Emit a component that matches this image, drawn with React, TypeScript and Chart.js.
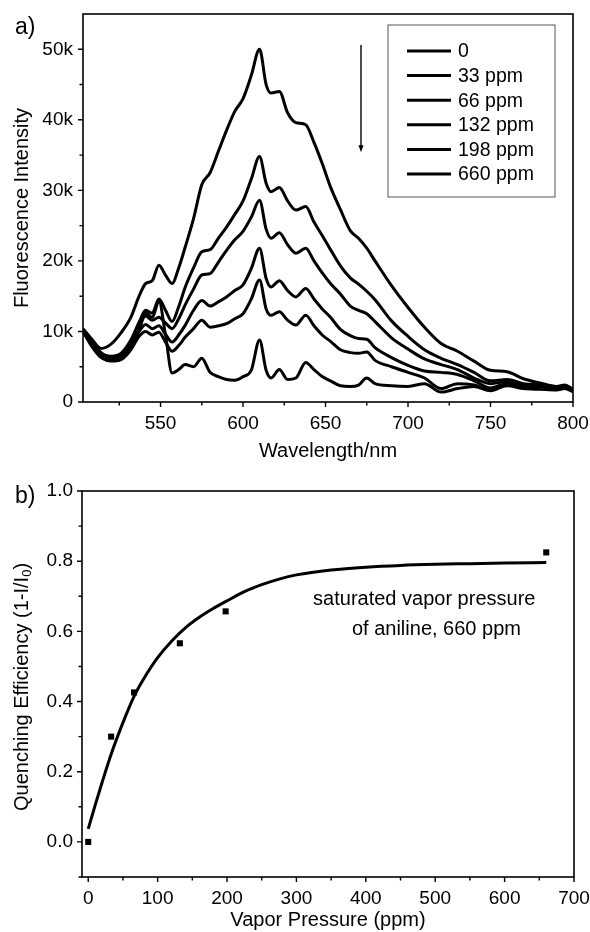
import React, { useEffect, useRef } from "react";
import { Chart, registerables } from "chart.js";

Chart.register(...registerables);

// ---------- Panel a) data (intensity in thousands of counts) ----------
const WAVELENGTH = [503, 508, 514, 520, 526, 532, 537, 541, 545, 549, 553, 557, 561, 565, 570, 575, 580, 585, 590, 595, 600, 605, 610, 614, 617, 622, 627, 632, 638, 643, 648, 653, 659, 665, 670, 675, 680, 690, 700, 710, 720, 730, 740, 750, 760, 770, 780, 790, 795, 800];
const I_0PPM = [10.4, 9.0, 7.6, 8.2, 9.8, 12.0, 15.0, 16.8, 17.2, 19.4, 18.0, 16.8, 19.0, 22.0, 26.0, 30.8, 32.5, 35.5, 38.5, 41.2, 43.0, 46.3, 50.0, 45.0, 43.8, 44.0, 41.0, 39.6, 39.3, 36.8, 33.8, 30.5, 27.3, 24.3, 23.2, 21.8, 20.0, 16.5, 13.4, 10.6, 8.3, 7.2, 5.8, 4.5, 4.3, 3.3, 2.7, 2.2, 2.4, 1.8];
const I_33PPM = [10.3, 8.8, 7.0, 6.5, 6.9, 8.8, 11.3, 13.0, 12.6, 14.6, 13.0, 11.4, 13.5, 16.3, 19.0, 21.3, 21.6, 23.2, 24.8, 26.6, 28.5, 31.6, 34.8, 31.0, 29.8, 30.4, 28.5, 27.2, 27.7, 25.5, 23.6, 21.6, 19.3, 17.6, 16.7, 15.7, 14.5, 11.5, 9.3, 7.4, 6.2, 5.3, 4.2, 3.0, 3.2, 2.6, 2.4, 2.1, 2.3, 1.7];
const I_66PPM = [10.2, 8.6, 6.8, 6.2, 6.6, 8.4, 10.8, 12.2, 11.6, 12.0, 11.2, 10.4, 11.8, 13.8, 16.0, 18.0, 18.2, 19.8, 21.5, 23.0, 24.2, 26.2, 28.6, 24.5, 23.2, 24.0, 22.3, 21.1, 21.8, 20.0, 18.3, 16.8, 15.3, 13.6, 13.0, 12.5, 11.4, 9.1, 7.5, 6.1, 5.3, 4.6, 3.4, 2.6, 2.9, 2.4, 2.3, 2.0, 2.2, 1.7];
const I_132PPM = [10.1, 8.4, 6.6, 6.0, 6.3, 7.9, 10.0, 11.0, 10.4, 10.8, 9.6, 8.5, 9.5, 10.9, 13.0, 14.4, 13.6, 14.2, 14.9, 15.8, 16.6, 18.9, 21.8, 17.5, 16.3, 17.2, 15.8, 14.9, 16.1, 14.6, 13.2, 12.0, 10.3, 9.4, 9.0, 8.9, 7.7, 6.3, 5.2, 4.4, 4.2, 3.9, 3.0, 2.0, 2.6, 2.2, 2.1, 1.9, 2.1, 1.6];
const I_198PPM = [10.0, 8.2, 6.4, 5.8, 6.0, 7.4, 9.3, 10.0, 9.5, 9.9, 8.5, 7.2, 8.0, 9.2, 10.4, 11.6, 10.6, 10.8, 11.1, 11.8, 12.5, 14.6, 17.3, 13.2, 12.3, 12.8, 11.6, 10.9, 12.3, 10.8, 9.5, 8.6, 7.4, 7.0, 6.9, 7.1, 5.9, 5.0, 4.2, 3.4, 1.9, 2.6, 2.4, 1.7, 2.5, 2.0, 1.9, 1.8, 2.0, 1.5];
const I_660PPM = [10.0, 8.0, 6.3, 5.9, 6.4, 8.0, 10.2, 12.6, 12.0, 14.3, 9.5, 4.1, 4.6, 5.3, 5.0, 6.2, 4.2, 3.6, 3.2, 3.1, 3.6, 4.5, 8.8, 4.5, 3.4, 4.6, 3.2, 3.4, 5.6, 4.6, 3.6, 3.0, 2.3, 2.2, 2.4, 3.4, 2.6, 2.3, 2.2, 2.6, 1.4, 1.9, 2.2, 1.6, 2.3, 1.9, 1.8, 1.7, 1.9, 1.5];
const SPECTRA = [I_0PPM, I_33PPM, I_66PPM, I_132PPM, I_198PPM, I_660PPM];
const SERIES_LABELS = ["0", "33 ppm", "66 ppm", "132 ppm", "198 ppm", "660 ppm"];

const X_TICKS_A = [550, 600, 650, 700, 750, 800];
const X_MINOR_A = [525, 575, 625, 675, 725, 775];
const Y_TICKS_A = [0, 10, 20, 30, 40, 50];
const Y_MINOR_A = [5, 15, 25, 35, 45];
const ARROW_A = { x: 671.5, from: 50.6, to: 35.4 };

// ---------- Panel b) data ----------
const PRESSURE = [0, 33, 66, 132, 198, 660];
const EFFICIENCY = [0.0, 0.3, 0.426, 0.566, 0.657, 0.825];
const FIT_X = [0, 10, 20, 33, 50, 66, 80, 100, 120, 140, 160, 180, 200, 225, 250, 275, 300, 350, 400, 450, 500, 550, 600, 660];
const FIT_Y = [0.037, 0.105, 0.17, 0.25, 0.34, 0.415, 0.465, 0.525, 0.572, 0.61, 0.64, 0.665, 0.687, 0.713, 0.733, 0.749, 0.761, 0.775, 0.783, 0.788, 0.791, 0.793, 0.795, 0.796];

const X_TICKS_B = [0, 100, 200, 300, 400, 500, 600, 700];
const X_MINOR_B = [50, 150, 250, 350, 450, 550, 650];
const Y_TICKS_B = [0, 0.2, 0.4, 0.6, 0.8, 1.0];
const Y_MINOR_B = [-0.1, 0.1, 0.3, 0.5, 0.7, 0.9];
const ANNOTATION_B = [
  { text: "saturated vapor pressure", x: 324, y: 0.69 },
  { text: "of aniline, 660 ppm", x: 380, y: 0.604 },
];

const FONT = "'Liberation Sans', Arial, Helvetica, sans-serif";

function framePlugin(
  majorX: number[],
  minorX: number[],
  majorY: number[],
  minorY: number[],
  extra: (chart: any) => void
) {
  return {
    id: "frameTicks",
    afterDraw(chart: any) {
      const { ctx, chartArea, scales } = chart;
      const { left, right, top, bottom } = chartArea;
      ctx.save();
      ctx.strokeStyle = "#000";
      ctx.lineWidth = 1.6;
      ctx.strokeRect(left, top, right - left, bottom - top);
      ctx.lineWidth = 1.4;
      ctx.beginPath();
      const tick = (vals: number[], len: number, axis: "x" | "y") => {
        for (const v of vals) {
          if (axis === "x") {
            const px = scales.x.getPixelForValue(v);
            ctx.moveTo(px, bottom);
            ctx.lineTo(px, bottom + len);
          } else {
            const py = scales.y.getPixelForValue(v);
            ctx.moveTo(left, py);
            ctx.lineTo(left - len, py);
          }
        }
      };
      tick(majorX, 5, "x");
      tick(minorX, 3.5, "x");
      tick(majorY, 5, "y");
      tick(minorY, 3.5, "y");
      ctx.stroke();
      ctx.restore();
      ctx.save();
      extra(chart);
      ctx.restore();
    },
  };
}

function fixedTicks(values: number[]) {
  return (scale: any) => {
    scale.ticks = values.map((v) => ({ value: v }));
  };
}

function fitBox(prop: "width" | "height", size: number) {
  return (s: any) => {
    s[prop] = size;
    s.paddingLeft = 0;
    s.paddingRight = 0;
    s.paddingTop = 0;
    s.paddingBottom = 0;
  };
}

export default function App() {
  const refA = useRef<HTMLCanvasElement | null>(null);
  const refB = useRef<HTMLCanvasElement | null>(null);

  useEffect(() => {
    Chart.defaults.font.family = FONT;
    Chart.defaults.color = "#000";

    // ---------------- Chart a ----------------
    const extraA = (chart: any) => {
      const { ctx, chartArea, scales } = chart;
      const { right, top } = chartArea;
      ctx.fillStyle = "#000";
      ctx.font = `23px ${FONT}`;
      ctx.textBaseline = "alphabetic";
      ctx.textAlign = "left";
      ctx.fillText("a)", 15, 34);
      // legend
      const bl = right - 185;
      const bt = top + 11;
      ctx.strokeStyle = "#555";
      ctx.lineWidth = 1;
      ctx.strokeRect(bl, bt, 167, 172);
      ctx.font = `19.5px ${FONT}`;
      ctx.textBaseline = "middle";
      chart.data.datasets.forEach((ds: any, i: number) => {
        const y = top + 37 + i * 24.6;
        ctx.strokeStyle = "#000";
        ctx.lineWidth = 3;
        ctx.beginPath();
        ctx.moveTo(bl + 19, y);
        ctx.lineTo(bl + 63, y);
        ctx.stroke();
        ctx.fillText(ds.label, bl + 70, y + 1);
      });
      // arrow
      const ax = scales.x.getPixelForValue(ARROW_A.x);
      const y1 = scales.y.getPixelForValue(ARROW_A.from);
      const y2 = scales.y.getPixelForValue(ARROW_A.to);
      ctx.strokeStyle = "#000";
      ctx.lineWidth = 1.4;
      ctx.beginPath();
      ctx.moveTo(ax, y1);
      ctx.lineTo(ax, y2 - 5);
      ctx.stroke();
      ctx.beginPath();
      ctx.moveTo(ax - 2.5, y2 - 7);
      ctx.lineTo(ax + 2.5, y2 - 7);
      ctx.lineTo(ax, y2);
      ctx.closePath();
      ctx.fill();
    };

    const chartA = new Chart(refA.current as HTMLCanvasElement, {
      type: "line",
      data: {
        datasets: SPECTRA.map((arr, i) => ({
          label: SERIES_LABELS[i],
          data: WAVELENGTH.map((w, j) => ({ x: w, y: arr[j] })),
          borderColor: "#000",
          borderWidth: 3,
          pointRadius: 0,
          fill: false,
          cubicInterpolationMode: "monotone" as const,
        })),
      },
      options: {
        responsive: false,
        animation: false,
        events: [],
        layout: { padding: { left: 0, top: 14, right: 17, bottom: 0 } },
        plugins: { legend: { display: false }, tooltip: { enabled: false } },
        scales: {
          x: {
            type: "linear",
            min: 503,
            max: 800,
            afterBuildTicks: fixedTicks(X_TICKS_A),
            afterFit: fitBox("height", 68),
            grid: { display: false, drawTicks: false },
            border: { display: false },
            ticks: { padding: 10, font: { size: 19 }, color: "#000", maxRotation: 0, autoSkip: false },
            title: {
              display: true,
              text: "Wavelength/nm",
              font: { size: 20 },
              color: "#000",
              padding: { top: 0, bottom: 7 },
            },
          },
          y: {
            type: "linear",
            min: 0,
            max: 55,
            afterBuildTicks: fixedTicks(Y_TICKS_A),
            afterFit: fitBox("width", 83),
            grid: { display: false, drawTicks: false },
            border: { display: false },
            ticks: {
              padding: 10,
              font: { size: 19 },
              color: "#000",
              callback: (v: any) => (v === 0 ? "0" : `${v}k`),
            },
            title: {
              display: true,
              text: "Fluorescence Intensity",
              font: { size: 20 },
              color: "#000",
              padding: { top: 10, bottom: 0 },
            },
          },
        },
      },
      plugins: [framePlugin(X_TICKS_A, X_MINOR_A, Y_TICKS_A, Y_MINOR_A, extraA)],
    } as any);

    // ---------------- Chart b ----------------
    const extraB = (chart: any) => {
      const { ctx, chartArea, scales } = chart;
      const { top, bottom } = chartArea;
      ctx.fillStyle = "#000";
      ctx.font = `23px ${FONT}`;
      ctx.textBaseline = "alphabetic";
      ctx.textAlign = "left";
      ctx.fillText("b)", 15, 33);
      // annotation
      ctx.font = `20px ${FONT}`;
      ctx.textBaseline = "middle";
      for (const a of ANNOTATION_B) {
        ctx.fillText(a.text, scales.x.getPixelForValue(a.x), scales.y.getPixelForValue(a.y));
      }
      // y-axis title with subscript
      const main = "Quenching Efficiency (1-I/I";
      ctx.font = `20px ${FONT}`;
      const wMain = ctx.measureText(main).width;
      const wClose = ctx.measureText(")").width;
      ctx.font = `13px ${FONT}`;
      const wSub = ctx.measureText("0").width;
      const total = wMain + wSub + wClose;
      ctx.translate(22, (top + bottom) / 2 + 3);
      ctx.rotate(-Math.PI / 2);
      ctx.textBaseline = "middle";
      let x0 = -total / 2;
      ctx.font = `20px ${FONT}`;
      ctx.fillText(main, x0, 0);
      x0 += wMain;
      ctx.font = `13px ${FONT}`;
      ctx.fillText("0", x0, 5);
      x0 += wSub;
      ctx.font = `20px ${FONT}`;
      ctx.fillText(")", x0, 0);
    };

    const chartB = new Chart(refB.current as HTMLCanvasElement, {
      type: "scatter",
      data: {
        datasets: [
          {
            label: "data",
            data: PRESSURE.map((p, i) => ({ x: p, y: EFFICIENCY[i] })),
            pointStyle: "rect",
            pointRadius: 4.3,
            backgroundColor: "#000",
            borderColor: "#000",
            borderWidth: 0,
            showLine: false,
          },
          {
            label: "fit",
            data: FIT_X.map((x, i) => ({ x, y: FIT_Y[i] })),
            showLine: true,
            borderColor: "#000",
            borderWidth: 3,
            pointRadius: 0,
            fill: false,
            cubicInterpolationMode: "monotone" as const,
          },
        ],
      },
      options: {
        responsive: false,
        animation: false,
        events: [],
        layout: { padding: { left: 0, top: 21, right: 16, bottom: 0 } },
        plugins: { legend: { display: false }, tooltip: { enabled: false } },
        scales: {
          x: {
            type: "linear",
            min: -9,
            max: 700,
            afterBuildTicks: fixedTicks(X_TICKS_B),
            afterFit: fitBox("height", 55),
            grid: { display: false, drawTicks: false },
            border: { display: false },
            ticks: { padding: 10, font: { size: 19 }, color: "#000", maxRotation: 0, autoSkip: false },
            title: {
              display: true,
              text: "Vapor Pressure (ppm)",
              font: { size: 20 },
              color: "#000",
              padding: { top: 0, bottom: 0 },
            },
          },
          y: {
            type: "linear",
            min: -0.1,
            max: 1.0,
            afterBuildTicks: fixedTicks(Y_TICKS_B),
            afterFit: fitBox("width", 82),
            grid: { display: false, drawTicks: false },
            border: { display: false },
            ticks: {
              padding: 9,
              font: { size: 19 },
              color: "#000",
              callback: (v: any) => Number(v).toFixed(1),
            },
            title: { display: false },
          },
        },
      },
      plugins: [framePlugin(X_TICKS_B, X_MINOR_B, Y_TICKS_B, Y_MINOR_B, extraB)],
    } as any);

    return () => {
      chartA.destroy();
      chartB.destroy();
    };
  }, []);

  return (
    <div
      style={{
        position: "absolute",
        left: 0,
        top: 0,
        width: 590,
        height: 932,
        background: "#fff",
      }}
    >
      <canvas ref={refA} width={590} height={470} style={{ display: "block", width: 590, height: 470 }} />
      <canvas ref={refB} width={590} height={462} style={{ display: "block", width: 590, height: 462 }} />
    </div>
  );
}
